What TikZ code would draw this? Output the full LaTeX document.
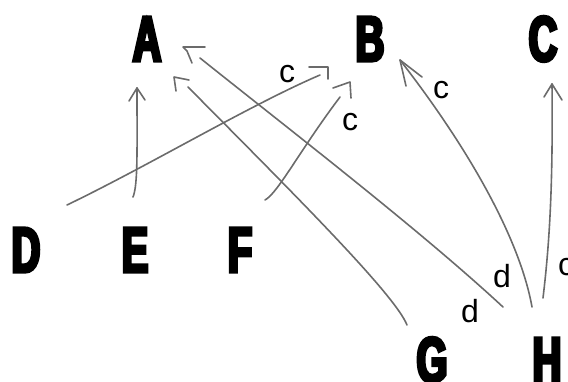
\documentclass[tikz,border=0pt]{standalone}
\usepackage{fontspec}
\setmainfont{Liberation Sans}
\newfontfamily\impfont{Liberation Sans Bold}[FakeBold=5,FakeStretch=0.62]
\usetikzlibrary{calc}
\definecolor{linegray}{gray}{0.42}
\begin{document}
\begin{tikzpicture}[x=1pt,y=-1pt,
  big/.style={font=\impfont\fontsize{64}{64}\selectfont, inner sep=0pt, anchor=base},
  lab/.style={font=\fontsize{32}{32}\selectfont, inner sep=0pt, anchor=base},
  conn/.style={draw=linegray, line width=1.6pt, line cap=round, line join=round}]
\useasboundingbox (0,0) rectangle (568,381);
% letters
\node[big] (A) at (147,61) {A};
\node[big] (B) at (370,61) {B};
\node[big] (C) at (543,61) {C};
\node[big] (D) at (26,272) {D};
\node[big] (E) at (135,272) {E};
\node[big] (F) at (240,272) {F};
\node[big] (G) at (432,382) {G};
\node[big] (H) at (547,382) {H};
% labels
\node[lab] (c1) at (287,82) {c};
\node[lab] (c2) at (350,130) {c};
\node[lab] (c3) at (441,98) {c};
\node[lab] (c4) at (566,275) {c};
\node[lab] (d1) at (502,287) {d};
\node[lab] (d2) at (470,322) {d};
% end points
\coordinate (gA0) at (407,325); \coordinate (gA1) at (188,87); \coordinate (gAt) at (174,77);
\coordinate (hA0) at (503,307); \coordinate (hA1) at (200,58); \coordinate (hAt) at (183,47);
\coordinate (dB0) at (67,205);  \coordinate (dB1) at (320,75); \coordinate (dBt) at (328,67);
\coordinate (fB0) at (265,200); \coordinate (fB1) at (340,97); \coordinate (fBt) at (350,82);
\coordinate (eA0) at (133,197); \coordinate (eAt) at (137,88);
\coordinate (hB0) at (532,307); \coordinate (hBt) at (400,60);
\coordinate (hC0) at (543,298); \coordinate (hCt) at (552,84);
% G -> A
\draw[conn] (gA0) .. controls (395,295) and (300,200) .. (gA1);
\draw[conn] ($(gAt)+(15,3)$) -- (gAt) -- ($(gAt)+(2,14)$);
% H -> A
\draw[conn] (hA0) .. controls (420,230) and (290,130) .. (hA1);
\draw[conn] ($(hAt)+(22,0)$) -- (hAt) -- ($(hAt)+(4,4)$) -- ($(hAt)+(9,16)$);
% D -> B
\draw[conn] (dB0) .. controls (150,165) and (250,105) .. (dB1);
\draw[conn] ($(dBt)+(-19,0)$) -- (dBt) -- ($(dBt)+(0,12)$);
% F -> B
\draw[conn] (fB0) .. controls (278,193) and (300,150) .. (fB1);
\draw[conn] ($(fBt)+(-17,6)$) -- (fBt) -- ($(fBt)+(1,16)$);
% E -> A
\draw[conn] (eA0) .. controls (138,185) and (137,150) .. (eAt);
\draw[conn] ($(eAt)+(-8,13)$) -- (eAt) -- ($(eAt)+(8,12)$);
% H -> B
\draw[conn] (hB0) .. controls (520,240) and (470,150) .. (hBt);
\draw[conn] ($(hBt)+(6,26)$) -- (hBt) -- ($(hBt)+(22,17)$);
% H -> C
\draw[conn] (hC0) .. controls (550,240) and (553,180) .. (hCt);
\draw[conn] ($(hCt)+(-8,13)$) -- (hCt) -- ($(hCt)+(10,16)$);
\end{tikzpicture}
\end{document}
